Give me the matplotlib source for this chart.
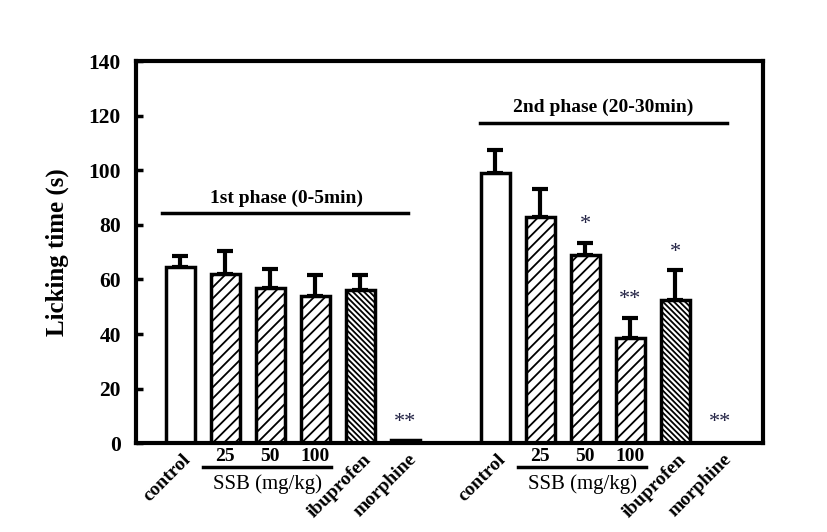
import matplotlib
matplotlib.use("Agg")
import matplotlib.pyplot as plt
import numpy as np

plt.rcParams['font.family'] = ['Liberation Serif', 'DejaVu Serif']
plt.rcParams['hatch.linewidth'] = 1.3

groups = ["control", "25", "50", "100", "ibuprofen", "morphine"]
phase1_mean = [64.5, 62, 57, 54, 56, 1]
phase1_err = [4, 8.5, 7, 7.5, 5.5, 0.5]
phase2_mean = [99, 83, 69, 38.5, 52.5, 0]
phase2_err = [8.5, 10, 4.5, 7.5, 11, 0]
phase1_sig = ["", "", "", "", "", "**"]
phase2_sig = ["", "", "*", "**", "*", "**"]
hatches = ["", "///", "///", "///", "\\\\\\\\\\\\", ""]
rot_labels = ["control", "", "", "", "ibuprofen", "morphine"]
dose_labels = ["", "25", "50", "100", "", ""]

fig = plt.figure(figsize=(8.27, 5.32), dpi=100)
ax = fig.add_axes([0.1645, 0.167, 0.758, 0.718])

x1 = np.arange(6)
x2 = np.arange(6) + 7
w = 0.64

def draw(xs, means, errs, sigs):
    for i, (x, m, e, s) in enumerate(zip(xs, means, errs, sigs)):
        ax.bar(x, m, width=w, facecolor='white', edgecolor='black',
               linewidth=2.5, hatch=hatches[i], zorder=2)
        if e > 0 and m > 2:
            ax.errorbar(x, m, yerr=[[0], [e]], fmt='none', ecolor='black',
                        elinewidth=3, capsize=6, capthick=3, zorder=1)
        if s:
            yy = m + e + 3 if m > 2 else 4
            ax.text(x, yy, s, ha='center', va='bottom', fontsize=16,
                    color='#222244')

draw(x1, phase1_mean, phase1_err, phase1_sig)
draw(x2, phase2_mean, phase2_err, phase2_sig)

ax.set_xlim(-0.98, 12.95)
ax.set_ylim(0, 140)
ax.set_yticks(np.arange(0, 141, 20))
ax.tick_params(axis='y', direction='in', length=5, width=2.5, labelsize=15.5, pad=11)
for lab in ax.get_yticklabels():
    lab.set_fontweight('bold')
ax.set_xticks([])
for sp in ax.spines.values():
    sp.set_linewidth(3)
ax.set_ylabel("Licking time (s)", fontsize=18, fontweight='bold', labelpad=14)

# phase annotations
ax.plot([-0.4, 5.07], [84.4, 84.4], color='black', lw=2.5, clip_on=False)
ax.text(2.36, 89.9, "1st phase (0-5min)", ha='center', va='center',
        fontsize=14, fontweight='bold')
ax.plot([6.67, 12.15], [117.2, 117.2], color='black', lw=2.5, clip_on=False)
ax.text(9.4, 123, "2nd phase (20-30min)", ha='center', va='center',
        fontsize=14, fontweight='bold')

trans = ax.get_xaxis_transform()
for xs in (x1, x2):
    for i, x in enumerate(xs):
        if rot_labels[i]:
            ax.text(x + 0.05, -0.02, rot_labels[i], transform=trans,
                    rotation=45, rotation_mode='anchor', ha='right', va='top',
                    fontsize=14, fontweight='bold')
        if dose_labels[i]:
            ax.text(x, -0.012, dose_labels[i], transform=trans, ha='center',
                    va='top', fontsize=14, fontweight='bold')
    ax.plot([xs[1] - 0.5, xs[3] + 0.35], [-0.063, -0.063], transform=trans,
            color='black', lw=2.5, clip_on=False)
    ax.text(xs[2] - 0.05, -0.082, "SSB (mg/kg)", transform=trans, ha='center',
            va='top', fontsize=15)

fig.savefig("out.png", dpi=100)
